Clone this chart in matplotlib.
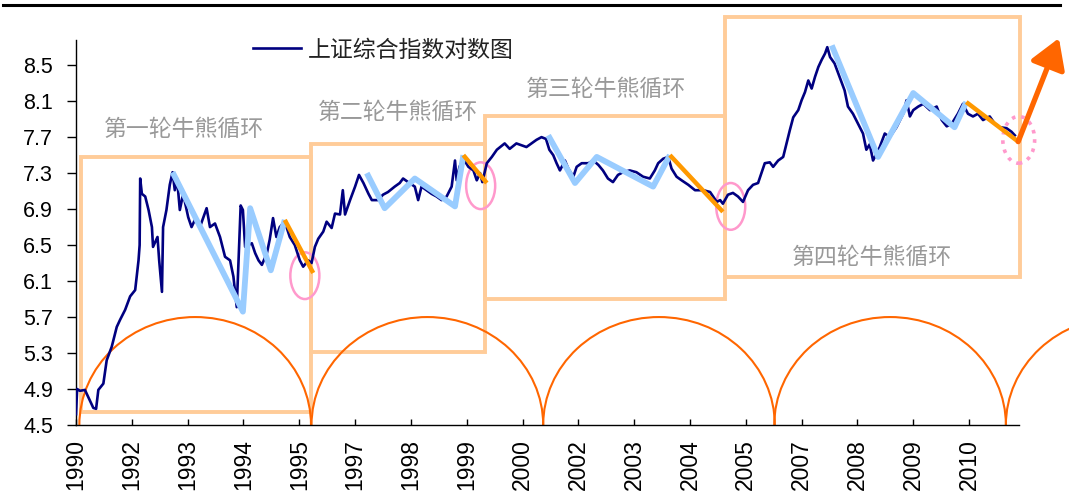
import matplotlib
matplotlib.use("Agg")
import matplotlib.pyplot as plt
from matplotlib.patches import Rectangle, Ellipse, Arc
from matplotlib.lines import Line2D

plt.rcParams['font.family'] = ['Liberation Sans', 'Noto Sans CJK SC', 'DejaVu Sans']

# x axis is in label-interval units (one tick = one label), y is ln(index)
year_labels = ['1990', '1992', '1993', '1994', '1995', '1997', '1998', '1999', '2000',
               '2002', '2003', '2004', '2005', '2007', '2008', '2009', '2010']
y_ticks = [4.5, 4.9, 5.3, 5.7, 6.1, 6.5, 6.9, 7.3, 7.7, 8.1, 8.5]

idx_x = [0.00, 0.02, 0.07, 0.16, 0.22, 0.31, 0.36, 0.40, 0.49, 0.55, 0.64, 0.73, 0.79, 0.88,
         0.97, 1.06, 1.12, 1.14, 1.15, 1.18, 1.24, 1.30, 1.36, 1.38, 1.46, 1.49, 1.54, 1.56,
         1.62, 1.68, 1.73, 1.77, 1.81, 1.86, 1.92, 2.01, 2.07, 2.13, 2.22, 2.34, 2.40, 2.49,
         2.58, 2.67, 2.76, 2.82, 2.88, 2.95, 2.99, 3.03, 3.15, 3.21, 3.27, 3.33, 3.42, 3.47,
         3.53, 3.59, 3.65, 3.74, 3.83, 3.92, 4.01, 4.07, 4.16, 4.22, 4.28, 4.34, 4.43, 4.49,
         4.58, 4.64, 4.73, 4.78, 4.82, 4.91, 5.00, 5.07, 5.15, 5.24, 5.30, 5.41, 5.50, 5.59,
         5.71, 5.80, 5.86, 5.95, 6.07, 6.13, 6.19, 6.28, 6.37, 6.46, 6.55, 6.64, 6.73, 6.79,
         6.82, 6.87, 6.94, 7.03, 7.12, 7.18, 7.24, 7.28, 7.36, 7.45, 7.54, 7.68, 7.77, 7.89,
         7.98, 8.07, 8.16, 8.25, 8.34, 8.42, 8.48, 8.55, 8.61, 8.67, 8.76, 8.82, 8.91, 8.97,
         9.06, 9.18, 9.27, 9.36, 9.44, 9.53, 9.62, 9.71, 9.80, 9.92, 10.04, 10.16, 10.28,
         10.37, 10.43, 10.52, 10.61, 10.67, 10.76, 10.85, 10.97, 11.09, 11.24, 11.36, 11.48,
         11.54, 11.59, 11.68, 11.77, 11.86, 11.95, 12.04, 12.13, 12.22, 12.28, 12.34, 12.43,
         12.49, 12.58, 12.67, 12.73, 12.79, 12.85, 12.94, 13.00, 13.06, 13.12, 13.18, 13.24,
         13.30, 13.36, 13.42, 13.46, 13.51, 13.59, 13.68, 13.77, 13.83, 13.92, 14.01, 14.10,
         14.16, 14.22, 14.28, 14.40, 14.49, 14.58, 14.70, 14.82, 14.88, 14.94, 15.00, 15.09,
         15.18, 15.30, 15.42, 15.51, 15.60, 15.69, 15.80, 15.89, 15.98, 16.07, 16.16, 16.25,
         16.37, 16.46, 16.55, 16.67, 16.76, 16.82]
log_idx = [4.62, 4.90, 4.88, 4.89, 4.81, 4.69, 4.68, 4.89, 4.96, 5.22, 5.37, 5.59, 5.67, 5.78,
           5.93, 6.00, 6.33, 6.50, 7.24, 7.07, 7.04, 6.89, 6.70, 6.48, 6.59, 6.33, 5.98, 6.70,
           6.89, 7.17, 7.31, 7.11, 7.24, 6.89, 7.07, 6.81, 6.70, 6.78, 6.70, 6.91, 6.70, 6.74,
           6.59, 6.37, 6.33, 6.15, 5.81, 6.94, 6.89, 6.48, 6.52, 6.41, 6.33, 6.28, 6.41, 6.56,
           6.80, 6.59, 6.70, 6.76, 6.59, 6.50, 6.33, 6.26, 6.33, 6.30, 6.48, 6.57, 6.65, 6.76,
           6.69, 6.85, 6.84, 7.11, 6.84, 7.00, 7.15, 7.28, 7.19, 7.07, 7.00, 7.00, 7.06, 7.09,
           7.15, 7.19, 7.24, 7.20, 7.15, 7.00, 7.15, 7.11, 7.07, 7.04, 7.00, 7.04, 7.15, 7.44,
           7.22, 7.37, 7.46, 7.37, 7.33, 7.22, 7.30, 7.20, 7.41, 7.48, 7.56, 7.63, 7.57, 7.63,
           7.61, 7.59, 7.63, 7.67, 7.70, 7.68, 7.56, 7.50, 7.41, 7.33, 7.44, 7.35, 7.26, 7.37,
           7.41, 7.41, 7.44, 7.39, 7.33, 7.24, 7.20, 7.28, 7.31, 7.33, 7.31, 7.26, 7.24,
           7.33, 7.41, 7.46, 7.48, 7.35, 7.26, 7.22, 7.17, 7.11, 7.11, 7.09, 6.98,
           7.00, 6.96, 7.06, 7.08, 7.04, 6.98, 7.11, 7.17, 7.19, 7.30, 7.41, 7.42,
           7.37, 7.44, 7.48, 7.63, 7.78, 7.92, 8.00, 8.11, 8.20, 8.33, 8.24, 8.37,
           8.48, 8.56, 8.63, 8.70, 8.59, 8.52, 8.37, 8.22, 8.04, 7.96, 7.85, 7.74,
           7.56, 7.62, 7.44, 7.59, 7.74, 7.70, 7.81, 7.96, 8.11, 7.93, 8.00, 8.04,
           8.07, 8.00, 8.04, 7.89, 7.82, 7.85, 7.96, 8.07, 7.96, 7.93, 7.96, 7.89,
           7.93, 7.85, 7.81, 7.80, 7.76, 7.72]

# trend lines of each cycle (blue = swings, orange = final leg)
swing_x = [[1.73, 2.99, 3.12, 3.49, 3.74], [5.21, 5.53, 6.07, 6.79, 6.94],
           [8.46, 8.94, 9.33, 10.34, 10.64], [13.54, 14.37, 15.00, 15.74, 15.95]]
swing_y = [[7.31, 5.76, 6.91, 6.22, 6.78], [7.30, 6.91, 7.24, 6.93, 7.50],
           [7.72, 7.19, 7.48, 7.15, 7.50], [8.72, 7.48, 8.19, 7.81, 8.09]]
fall_x = [[3.74, 4.25], [6.94, 7.36], [10.64, 11.59], [15.95, 16.88]]
fall_y = [[6.78, 6.19], [7.50, 7.19], [7.50, 6.87], [8.09, 7.65]]
arrow_start = (16.88, 7.65)
arrow_end = (17.61, 8.80)

# cycle boxes: x0, x1, y0, y1
box_x0 = [0.09, 4.21, 7.33, 11.62]
box_x1 = [4.21, 7.33, 11.62, 16.91]
box_y0 = [4.65, 5.31, 5.90, 6.15]
box_y1 = [7.48, 7.62, 7.94, 9.04]
cycle_names = ['第一轮牛熊循环', '第二轮牛熊循环', '第三轮牛熊循环', '第四轮牛熊循环']
name_x = [1.93, 5.76, 9.49, 14.26]
name_y = [7.79, 7.98, 8.23, 6.36]

# turning-point circles
circ_x = [4.10, 7.25, 11.73]
circ_y = [6.16, 7.16, 6.93]
last_circ = (16.89, 7.67)

# half-period arcs along the bottom
arc_starts = [0.06, 4.22, 8.37, 12.51, 16.66]
arc_width = 4.15
arc_top = 5.70

fig = plt.figure(figsize=(10.69, 5.01), dpi=100)
ax = fig.add_axes([0.0711, 0.1517, 0.8824, 0.7685])

ax.plot(idx_x, log_idx, color='#000080', lw=1.9, zorder=3, label='上证综合指数对数图')

for xs, ys in zip(swing_x, swing_y):
    ax.plot(xs, ys, color='#99CCFF', lw=4.2, zorder=4, solid_capstyle='butt')
for xs, ys in zip(fall_x, fall_y):
    ax.plot(xs, ys, color='#FF9900', lw=3.2, zorder=4, solid_capstyle='butt')

ax.annotate('', xy=arrow_end, xytext=arrow_start, annotation_clip=False,
            arrowprops=dict(arrowstyle='-|>,head_length=0.9,head_width=0.55', lw=3.8,
                            color='#FF6600', shrinkA=0, shrinkB=0, mutation_scale=20),
            zorder=5)

for x0, x1, y0, y1 in zip(box_x0, box_x1, box_y0, box_y1):
    ax.add_patch(Rectangle((x0, y0), x1 - x0, y1 - y0, fill=False, ec='#FFCC99',
                           lw=2.8, zorder=2, clip_on=False))
for name, tx, ty in zip(cycle_names, name_x, name_y):
    ax.text(tx, ty, name, ha='center', va='center', fontsize=16.5, color='#999999',
            family=['Noto Sans CJK SC'], zorder=6)

for cx, cy in zip(circ_x, circ_y):
    ax.add_patch(Ellipse((cx, cy), 0.52, 0.52, fill=False, ec='#FF99CC', lw=1.8, zorder=2))
ax.add_patch(Ellipse(last_circ, 0.57, 0.52, fill=False, ec='#FF99CC', lw=2.6,
                     ls=(0, (1, 1.6)), zorder=2, clip_on=False))

for a0 in arc_starts:
    arc = Arc((a0 + arc_width / 2, 4.5), arc_width, 2 * (arc_top - 4.5),
              theta1=0, theta2=180, color='#FF6600', lw=1.5, zorder=2)
    arc.set_clip_box(fig.bbox)
    arc.set_clip_on(False)
    ax.add_patch(arc)

ax.set_xlim(0, 16.9)
ax.set_ylim(4.5, 8.78)
ax.set_xticks(range(len(year_labels)))
ax.set_xticklabels(year_labels, rotation=90, fontsize=16.5)
ax.set_yticks(y_ticks)
ax.set_yticklabels(['%.1f' % v for v in y_ticks], fontsize=15.5)
ax.tick_params(axis='x', direction='in', length=4.5, width=1, pad=10)
ax.tick_params(axis='y', direction='out', length=6.5, width=1, pad=10)
for s in ['top', 'right']:
    ax.spines[s].set_visible(False)
for s in ['left', 'bottom']:
    ax.spines[s].set_linewidth(1)

leg = ax.legend(loc='center left', bbox_to_anchor=(0.1876, 0.974), frameon=False,
                borderpad=0, borderaxespad=0, handlelength=2.1, handletextpad=0.3,
                prop={'family': 'Noto Sans CJK SC', 'size': 16.5})
for t in leg.get_texts():
    t.set_color('#222222')

fig.add_artist(Line2D([0.003, 0.992], [0.990, 0.990], color='black', lw=2.2))

fig.savefig('out.png', dpi=100)
